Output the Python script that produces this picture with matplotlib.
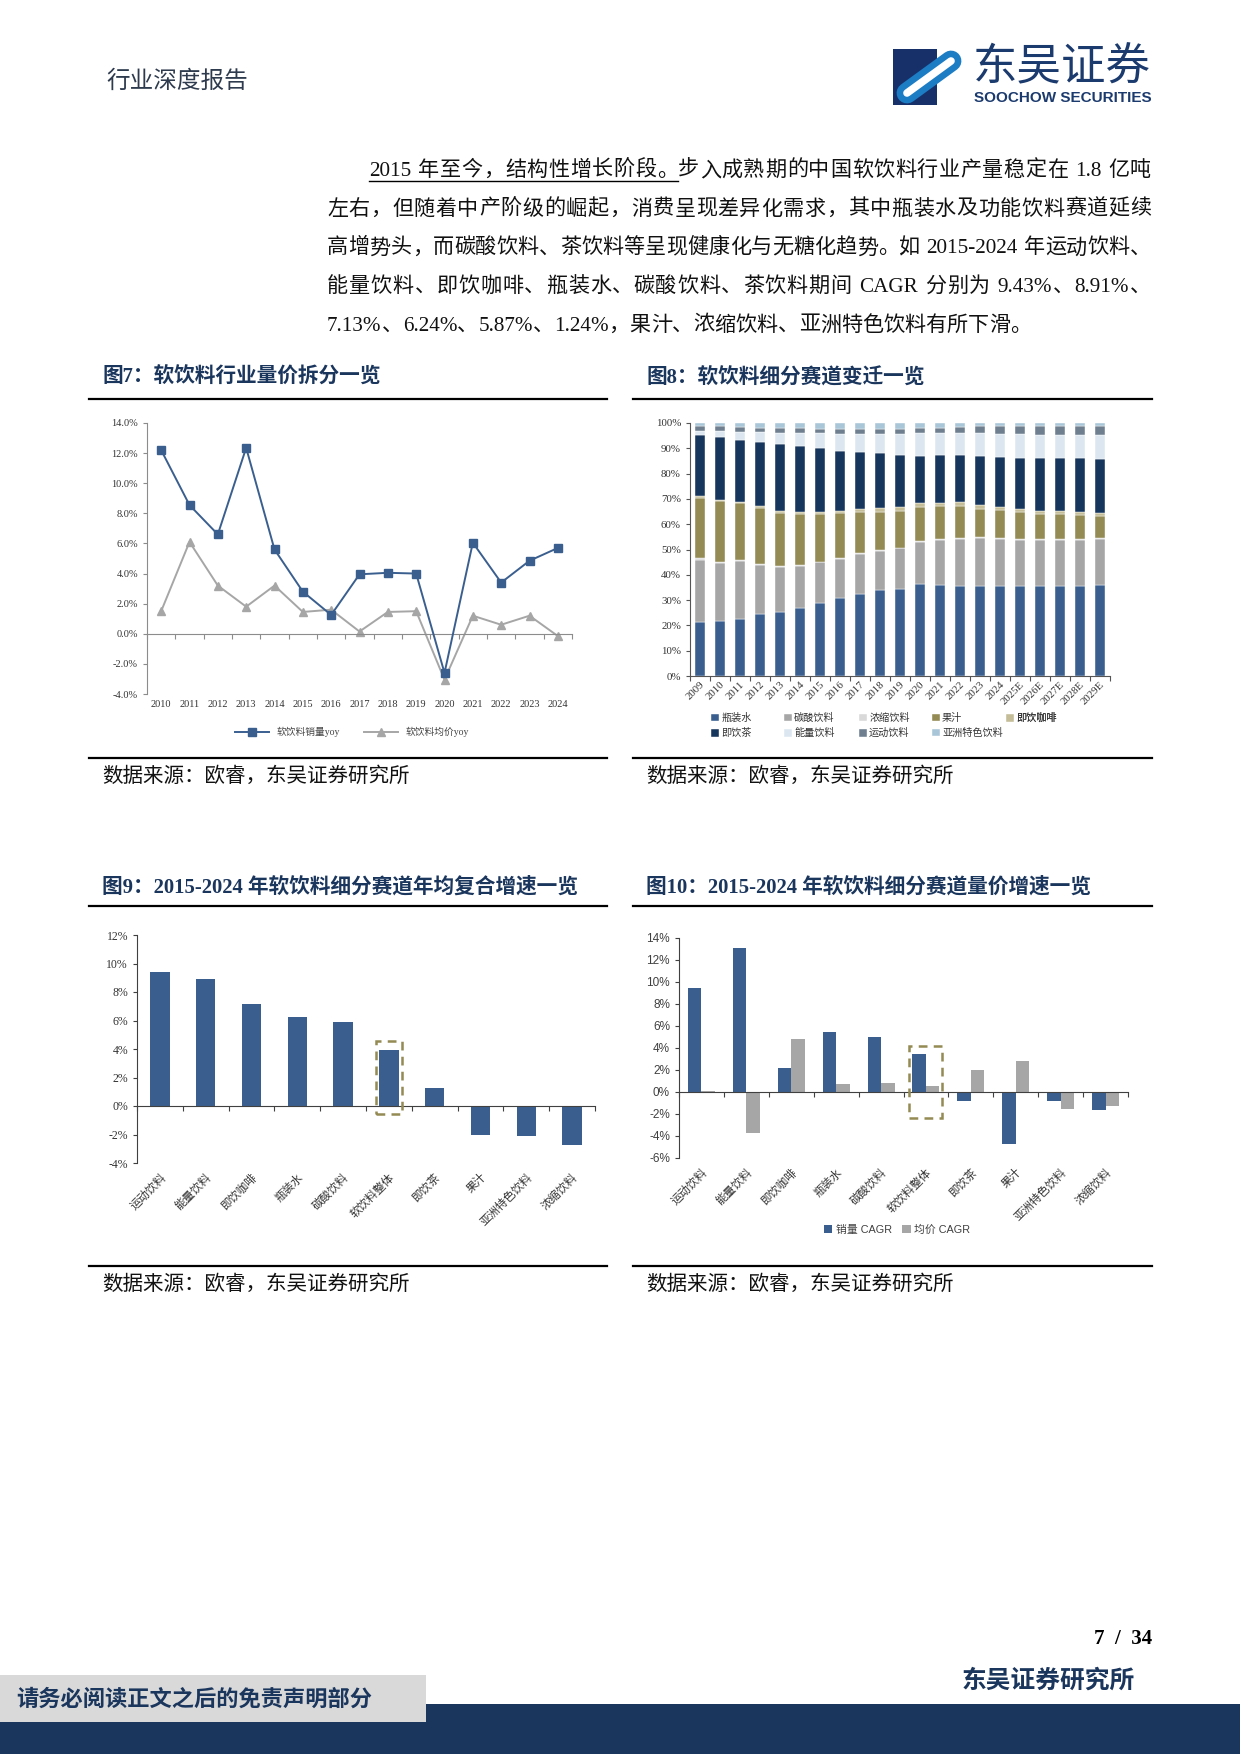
import re

import numpy as np
import matplotlib
matplotlib.use("Agg")
import matplotlib.pyplot as plt
from matplotlib.patches import Rectangle
from matplotlib.lines import Line2D
from matplotlib.ticker import FuncFormatter

W, H = 1240, 1754
CJK = "Noto Sans CJK SC"
SERIF = ["Liberation Serif", CJK]
SANS = ["Liberation Sans", CJK]
plt.rcParams["font.family"] = SERIF
plt.rcParams["axes.unicode_minus"] = False

NAVY = "#1B365D"
BLUE = "#3A5F8F"
GREY = "#A6A6A6"
OLIVE = "#948A54"

# ---------------- data ----------------
# 图7 软饮料行业量价拆分
years7 = [str(y) for y in range(2010, 2025)]
vol_yoy = [12.2, 8.55, 6.6, 12.35, 5.6, 2.8, 1.25, 3.95, 4.05, 4.0, -2.6, 6.05, 3.4, 4.85, 5.7]
price_yoy = [1.5, 6.1, 3.2, 1.8, 3.2, 1.45, 1.6, 0.15, 1.45, 1.5, -3.05, 1.2, 0.6, 1.2, -0.15]

# 图8 软饮料细分赛道变迁 (%)
years8 = [str(y) for y in range(2009, 2025)] + [f"{y}E" for y in range(2025, 2030)]
water = [21.2, 21.6, 22.4, 24.4, 25.2, 27.0, 28.9, 30.9, 32.5, 33.9, 34.4, 36.4, 36.0, 35.4, 35.4, 35.4, 35.4, 35.4, 35.6, 35.6, 35.9]
csd = [24.8, 23.0, 23.0, 19.3, 17.8, 16.5, 16.0, 15.4, 15.7, 15.6, 16.0, 16.5, 17.8, 18.8, 19.1, 18.7, 18.3, 18.3, 18.1, 18.2, 18.2]
conc = [0.5, 0.4, 0.4, 0.4, 0.3, 0.3, 0.3, 0.3, 0.3, 0.3, 0.3, 0.3, 0.3, 0.3, 0.3, 0.3, 0.3, 0.3, 0.3, 0.3, 0.3]
juice = [24.0, 24.0, 22.5, 22.4, 21.3, 20.3, 18.8, 17.8, 16.4, 15.2, 14.7, 13.7, 12.9, 12.6, 11.4, 11.2, 10.8, 10.1, 10.0, 9.5, 8.8]
coffee = [0.5, 0.4, 0.4, 0.5, 0.6, 0.6, 0.7, 0.8, 1.0, 1.3, 1.3, 1.4, 1.5, 1.5, 1.5, 1.3, 1.3, 1.2, 1.1, 1.1, 1.1]
tea = [24.3, 25.2, 24.7, 25.3, 26.4, 26.1, 25.3, 23.9, 22.8, 21.7, 20.8, 18.6, 18.7, 18.6, 19.3, 19.5, 20.0, 20.8, 21.0, 21.4, 21.6]
energy = [1.7, 2.2, 3.2, 4.0, 4.6, 5.2, 5.9, 6.7, 7.1, 7.6, 8.3, 9.1, 8.8, 8.8, 8.9, 9.1, 9.4, 9.0, 9.0, 9.0, 9.2]
sports = [1.9, 1.9, 1.7, 1.7, 1.7, 2.0, 1.9, 2.0, 2.0, 2.0, 1.8, 1.9, 2.0, 2.4, 2.8, 3.2, 3.2, 3.6, 3.6, 3.6, 3.6]
asian = [1.1, 1.3, 1.7, 2.0, 2.1, 2.0, 2.2, 2.2, 2.2, 2.4, 2.4, 2.1, 2.0, 1.6, 1.3, 1.3, 1.3, 1.3, 1.3, 1.3, 1.3]
seg_names = ["瓶装水", "碳酸饮料", "浓缩饮料", "果汁", "即饮咖啡", "即饮茶", "能量饮料", "运动饮料", "亚洲特色饮料"]
seg_colors = ["#3A5F8F", "#A6A6A6", "#D9D9D9", "#948A54", "#C4BD97", "#17365D", "#DCE6F1", "#6F7F90", "#A9C5D8"]

# 图9 / 图10 2015-2024 CAGR (%)
cats = ["运动饮料", "能量饮料", "即饮咖啡", "瓶装水", "碳酸饮料", "软饮料整体", "即饮茶", "果汁", "亚洲特色饮料", "浓缩饮料"]
cagr9 = [9.43, 8.91, 7.13, 6.24, 5.87, 3.95, 1.24, -2.05, -2.14, -2.75]
vol_cagr = [9.42, 13.06, 2.18, 5.5, 5.03, 3.42, -0.79, -4.73, -0.79, -1.67]
price_cagr = [0.12, -3.7, 4.85, 0.73, 0.85, 0.55, 2.0, 2.82, -1.52, -1.3]
highlight = "软饮料整体"

para = [
    "2015 年至今，结构性增长阶段。步入成熟期的中国软饮料行业产量稳定在 1.8 亿吨",
    "左右，但随着中产阶级的崛起，消费呈现差异化需求，其中瓶装水及功能饮料赛道延续",
    "高增势头，而碳酸饮料、茶饮料等呈现健康化与无糖化趋势。如 2015-2024 年运动饮料、",
    "能量饮料、即饮咖啡、瓶装水、碳酸饮料、茶饮料期间 CAGR 分别为 9.43%、8.91%、",
    "7.13%、6.24%、5.87%、1.24%，果汁、浓缩饮料、亚洲特色饮料有所下滑。",
]

# ---------------- page ----------------
fig = plt.figure(figsize=(W / 100, H / 100), dpi=100)
bg = fig.add_axes([0, 0, 1, 1])
bg.set_xlim(0, W); bg.set_ylim(H, 0); bg.axis("off")
R = fig.canvas.get_renderer()


def px_axes(l, t, r, b):
    return fig.add_axes([l / W, 1 - b / H, (r - l) / W, (b - t) / H])


def put_line(s, x0, x1, y, fs, justify=True):
    toks = re.findall(r"[A-Za-z0-9.%\-]+| |.", s)
    arts, widths = [], []
    for t in toks:
        if t == " ":
            arts.append(None); widths.append(fs * 100 / 72 * 0.28)
            continue
        a = bg.text(0, y, t, fontsize=fs, va="baseline", ha="left", color="#111111")
        widths.append(a.get_window_extent(R).width)
        arts.append(a)
    gap = (x1 - x0 - sum(widths)) / (len(toks) - 1) if justify else 0.0
    x, xs = x0, []
    for a, w in zip(arts, widths):
        if a is not None:
            a.set_x(x)
        xs.append(x)
        x += w + gap
    return xs, widths


# header + logo
bg.text(106, 81, "行业深度报告", fontsize=17, color="#2E3B4E", va="center", family=CJK)
bg.add_patch(Rectangle((893, 49), 44, 56, color="#17306A", lw=0))
bg.add_line(Line2D([907, 951], [93, 61], color="#1C7CC4", lw=15, solid_capstyle="round"))
bg.add_line(Line2D([907, 951], [93, 61], color="white", lw=5.5, solid_capstyle="round"))
bg.text(973, 67, "东吴证券", fontsize=32, color="#1B3A6E", va="center", family=CJK)
bg.text(974, 98.5, "SOOCHOW SECURITIES", fontsize=11, color="#1B3A6E", va="center",
        family="Liberation Sans", fontweight="bold")

# paragraph
y0, dy = 176, 38.7
for i, s in enumerate(para):
    x0 = 369 if i == 0 else 327
    xs, ws = put_line(s, x0, 1151, y0 + i * dy, 15.2, justify=(i < len(para) - 1))
    if i == 0:
        bg.plot([x0, xs[13] + ws[13]], [181, 181], color="black", lw=1.0)

# titles / rules / sources
panels = [(89, 607, 102), (633, 1152, 646)]
titles = [("图7：软饮料行业量价拆分一览", "图8：软饮料细分赛道变迁一览", 378, 399, 758, 776),
          ("图9：2015-2024 年软饮料细分赛道年均复合增速一览",
           "图10：2015-2024 年软饮料细分赛道量价增速一览", 887, 906, 1266, 1284)]
for tl, tr, ty, ry, by, sy in titles:
    for (l, r, tx), t in zip(panels, (tl, tr)):
        bg.text(tx, ty, t, fontsize=14.9, fontweight="bold", color=NAVY, va="center")
        bg.plot([l, r], [ry, ry], color="black", lw=1.6)
        bg.plot([l, r], [by, by], color="black", lw=1.6)
        bg.text(tx, sy, "数据来源：欧睿，东吴证券研究所", fontsize=14.8, va="center",
                color="#111111", family=CJK)

# footer
bg.text(1152, 1639, "7  /  34", fontsize=15, fontweight="bold", ha="right", va="center")
bg.text(1135, 1681, "东吴证券研究所", fontsize=17.8, fontweight="bold", color=NAVY,
        ha="right", va="center", family=CJK)
bg.add_patch(Rectangle((0, 1704), W, 50, color="#1B365D", lw=0))
bg.add_patch(Rectangle((0, 1675), 426, 47, color="#D9D9D9", lw=0))
bg.text(16, 1699, "请务必阅读正文之后的免责声明部分", fontsize=16, fontweight="bold",
        color=NAVY, va="center", family=CJK)


def cat_axis(ax, n, spine_col, zero=True):
    for s in ("top", "right"):
        ax.spines[s].set_visible(False)
    ax.spines["left"].set_color(spine_col)
    ax.spines["bottom"].set_color(spine_col)
    if zero:
        ax.spines["bottom"].set_position(("data", 0))
    ax.set_xlim(-0.5, n - 0.5)
    ax.set_xticks(np.arange(n + 1) - 0.5)
    ax.tick_params(axis="x", length=3.5, color=spine_col, labelbottom=False)
    ax.tick_params(axis="y", length=3, color=spine_col)


# ---------------- 图7 ----------------
ax = px_axes(147, 423, 572, 694)
x7 = np.arange(len(years7))
l1, = ax.plot(x7, vol_yoy, color=BLUE, lw=1.4, marker="s", ms=5.5, zorder=3)
l2, = ax.plot(x7, price_yoy, color=GREY, lw=1.4, marker="^", ms=5.5, zorder=2)
ax.set_ylim(-4, 14)
ax.set_yticks(np.arange(-4, 15, 2))
ax.yaxis.set_major_formatter(FuncFormatter(lambda v, p: f"{v:.1f}%"))
ax.tick_params(axis="y", labelsize=7.5, labelcolor="#333333")
cat_axis(ax, len(years7), "#8C8C8C")
sec = ax.secondary_xaxis("bottom")
sec.set_xticks(x7, years7)
sec.tick_params(length=0, pad=4, labelsize=7.5, labelcolor="#333333")
sec.spines["bottom"].set_visible(False)
ax.legend([l1, l2], ["软饮料销量yoy", "软饮料均价yoy"], loc="center", ncol=2, frameon=False,
          bbox_to_anchor=(352 / W, 1 - 732 / H), bbox_transform=fig.transFigure,
          prop={"family": SERIF, "size": 7}, handlelength=3.5, columnspacing=2.5,
          labelcolor="#444444")

# ---------------- 图8 ----------------
ax = px_axes(690, 423, 1110, 676)
x8 = np.arange(len(years8))
bottom = np.zeros(len(years8))
bars8 = []
for vals, col, name in zip([water, csd, conc, juice, coffee, tea, energy, sports, asian],
                           seg_colors, seg_names):
    b = ax.bar(x8, vals, bottom=bottom, width=0.5, color=col, edgecolor="white", linewidth=0.3)
    bars8.append(b)
    bottom += np.array(vals)
ax.set_ylim(0, 100)
ax.set_yticks(np.arange(0, 101, 10))
ax.yaxis.set_major_formatter(FuncFormatter(lambda v, p: f"{v:.0f}%"))
ax.tick_params(axis="y", labelsize=7.8, labelcolor="#333333")
cat_axis(ax, len(years8), "#555555", zero=False)
sec = ax.secondary_xaxis("bottom")
sec.set_xticks(x8, years8)
sec.tick_params(length=0, pad=3, labelsize=7.8, labelcolor="#333333")
plt.setp(sec.get_xticklabels(), rotation=45, ha="right", rotation_mode="anchor")
sec.spines["bottom"].set_visible(False)
col_x = [711, 784, 859, 932, 1006]
for c, cx in enumerate(col_x):
    idx = [i for i in (c, c + 5) if i < len(seg_names)]
    lg = ax.legend([bars8[i] for i in idx], [seg_names[i] for i in idx], loc="upper left",
                   bbox_to_anchor=(cx / W, 1 - 713 / H), bbox_transform=fig.transFigure,
                   frameon=False, prop={"family": CJK, "size": 7.3}, handlelength=0.8,
                   handleheight=0.8, handletextpad=0.2, labelspacing=0.5, borderpad=0,
                   borderaxespad=0, labelcolor="#333333")
    ax.add_artist(lg)

# ---------------- 图9 ----------------
ax = px_axes(137, 935, 595, 1163)
xc = np.arange(len(cats))
ax.bar(xc, cagr9, width=0.42, color=BLUE)
ax.set_ylim(-4, 12)
ax.set_yticks(np.arange(-4, 13, 2))
ax.yaxis.set_major_formatter(FuncFormatter(lambda v, p: f"{v:.0f}%"))
ax.tick_params(axis="y", labelsize=8.5, labelcolor="#333333")
cat_axis(ax, len(cats), "#404040")
sec = ax.secondary_xaxis("bottom")
sec.set_xticks(xc, cats)
sec.tick_params(length=0, pad=6, labelsize=8.2, labelcolor="#333333")
plt.setp(sec.get_xticklabels(), rotation=45, ha="right", rotation_mode="anchor", family=CJK)
sec.spines["bottom"].set_visible(False)
k = cats.index(highlight)
ax.add_patch(Rectangle((k - 0.29, -0.58), 0.58, cagr9[k] + 1.16, fill=False, ec=OLIVE,
                       lw=1.8, ls=(0, (3.5, 2.5)), zorder=4))

# ---------------- 图10 ----------------
ax = px_axes(679, 938, 1128, 1158)
b1 = ax.bar(xc - 0.15, vol_cagr, width=0.3, color=BLUE)
b2 = ax.bar(xc + 0.15, price_cagr, width=0.3, color=GREY)
ax.set_ylim(-6, 14)
ax.set_yticks(np.arange(-6, 15, 2))
ax.yaxis.set_major_formatter(FuncFormatter(lambda v, p: f"{v:.0f}%"))
ax.tick_params(axis="y", labelsize=8.5, labelcolor="#404040")
plt.setp(ax.get_yticklabels(), family=SANS)
cat_axis(ax, len(cats), "#404040")
sec = ax.secondary_xaxis("bottom")
sec.set_xticks(xc, cats)
sec.tick_params(length=0, pad=6, labelsize=8.2, labelcolor="#333333")
plt.setp(sec.get_xticklabels(), rotation=45, ha="right", rotation_mode="anchor", family=CJK)
sec.spines["bottom"].set_visible(False)
top = max(vol_cagr[k], price_cagr[k])
ax.add_patch(Rectangle((k - 0.38, -2.4), 0.74, top + 3.2, fill=False, ec=OLIVE,
                       lw=1.8, ls=(0, (3.5, 2.5)), zorder=4))
ax.legend([b1, b2], ["销量 CAGR", "均价 CAGR"], loc="center", ncol=2, frameon=False,
          bbox_to_anchor=(897 / W, 1 - 1230 / H), bbox_transform=fig.transFigure,
          prop={"family": SANS, "size": 7.8}, handlelength=0.8, handleheight=0.8,
          handletextpad=0.3, columnspacing=1.0, labelcolor="#404040")

fig.savefig("out.png", dpi=100)
